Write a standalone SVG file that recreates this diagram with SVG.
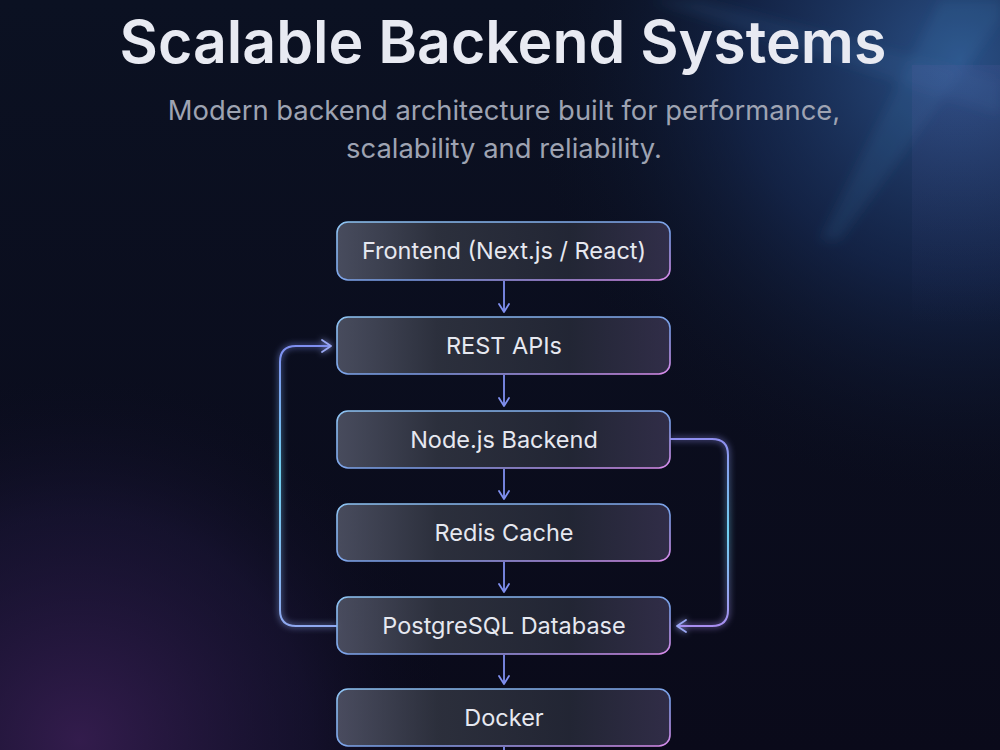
<svg xmlns="http://www.w3.org/2000/svg" width="1000" height="750" viewBox="0 0 1000 750">
<defs>
<linearGradient id="bg" x1="0" y1="0" x2="0" y2="1">
<stop offset="0" stop-color="#0b1122"/>
<stop offset="1" stop-color="#0a0a1a"/>
</linearGradient>
<radialGradient id="glowTR" cx="960" cy="60" r="440" gradientUnits="userSpaceOnUse">
<stop offset="0" stop-color="#2c548c" stop-opacity="0.95"/>
<stop offset="0.5" stop-color="#1a3262" stop-opacity="0.55"/>
<stop offset="1" stop-color="#0b1122" stop-opacity="0"/>
</radialGradient>
<radialGradient id="glowBL" cx="80" cy="740" r="380" gradientUnits="userSpaceOnUse">
<stop offset="0" stop-color="#3a1f55" stop-opacity="0.85"/>
<stop offset="0.6" stop-color="#241a45" stop-opacity="0.4"/>
<stop offset="1" stop-color="#0a0a1a" stop-opacity="0"/>
</radialGradient>
<linearGradient id="rayV" x1="0" y1="0" x2="0" y2="1">
<stop offset="0" stop-color="#5a5aa0" stop-opacity="0.18"/>
<stop offset="1" stop-color="#5a5aa0" stop-opacity="0"/>
</linearGradient>
<linearGradient id="nodeFill" x1="0" y1="0" x2="1" y2="0">
<stop offset="0" stop-color="#5c6072" stop-opacity="0.75"/>
<stop offset="0.3" stop-color="#343844" stop-opacity="0.8"/>
<stop offset="0.7" stop-color="#282c3a" stop-opacity="0.8"/>
<stop offset="1" stop-color="#3a3552" stop-opacity="0.8"/>
</linearGradient>
<linearGradient id="nodeStroke" x1="0" y1="0" x2="1" y2="1">
<stop offset="0" stop-color="#8ec4f2"/>
<stop offset="0.6" stop-color="#7a9ee8"/>
<stop offset="1" stop-color="#d88ae8"/>
</linearGradient>
<linearGradient id="loopL" x1="0" y1="0" x2="0" y2="1">
<stop offset="0" stop-color="#7f8ff0"/>
<stop offset="0.45" stop-color="#6fd0f0"/>
<stop offset="1" stop-color="#8fa8f0"/>
</linearGradient>
<linearGradient id="loopR" x1="0" y1="0" x2="0" y2="1">
<stop offset="0" stop-color="#8f8ff0"/>
<stop offset="0.5" stop-color="#6fd0f0"/>
<stop offset="1" stop-color="#a88ef0"/>
</linearGradient>
<filter id="glow" x="-20%" y="-20%" width="140%" height="140%">
<feGaussianBlur stdDeviation="3" result="b"/>
<feMerge><feMergeNode in="b"/><feMergeNode in="SourceGraphic"/></feMerge>
</filter>
<filter id="soft" x="-20%" y="-20%" width="140%" height="140%">
<feGaussianBlur stdDeviation="6"/>
</filter>
<marker id="ah" viewBox="0 0 12 12" refX="10" refY="6" markerWidth="12" markerHeight="12" markerUnits="userSpaceOnUse" orient="auto">
<path d="M2,1 L10,6 L2,11" fill="none" stroke="#8090f0" stroke-width="1.8" stroke-linecap="round" stroke-linejoin="round"/>
</marker>
<marker id="ahL" viewBox="0 0 14 14" refX="12" refY="7" markerWidth="14" markerHeight="14" markerUnits="userSpaceOnUse" orient="auto">
<path d="M3,1 L12,7 L3,13" fill="none" stroke="#9aa8f4" stroke-width="1.8" stroke-linecap="round" stroke-linejoin="round"/>
</marker>
</defs>
<style>
.node rect{fill:url(#nodeFill);stroke:url(#nodeStroke);stroke-width:1.6}
.lbl{font-family:Inter,"Noto Sans","Liberation Sans",sans-serif;font-size:23.5px;fill:#e6e8f0;text-anchor:middle}
.down{stroke:#7f8ff0;stroke-width:1.8;fill:none}
.loop{stroke-width:2;fill:none;stroke-linejoin:round}
.ttl{font-family:Inter,"Noto Sans","Liberation Sans",sans-serif;text-anchor:middle}
</style>
<rect width="1000" height="750" fill="url(#bg)"/>
<rect width="1000" height="750" fill="url(#glowTR)"/>
<rect width="1000" height="750" fill="url(#glowBL)"/>
<g filter="url(#soft)">
<polygon points="700,0 1000,80 1000,115 650,0" fill="#4a78b0" opacity="0.14"/>
<polygon points="940,0 1000,0 1000,20 840,240 820,240" fill="#4a86c0" opacity="0.14"/>
</g>
<rect x="912" y="65" width="88" height="260" fill="url(#rayV)"/>

<text class="ttl" x="503" y="63" font-size="59" font-weight="600" fill="#e8eaf2">Scalable Backend Systems</text>
<text class="ttl" x="504" y="120" font-size="27.4" fill="#9ea3b2">Modern backend architecture built for performance,</text>
<text class="ttl" x="504" y="158" font-size="27.4" fill="#9ea3b2">scalability and reliability.</text>

<g id="connectors">
<line class="down" x1="504" y1="281" x2="504" y2="312" marker-end="url(#ah)"/>
<line class="down" x1="504" y1="375" x2="504" y2="406" marker-end="url(#ah)"/>
<line class="down" x1="504" y1="469" x2="504" y2="499" marker-end="url(#ah)"/>
<line class="down" x1="504" y1="562" x2="504" y2="592" marker-end="url(#ah)"/>
<line class="down" x1="504" y1="655" x2="504" y2="684" marker-end="url(#ah)"/>
<line class="down" x1="504" y1="747" x2="504" y2="750"/>
<path class="loop" stroke="url(#loopL)" filter="url(#glow)" d="M337,626 L296,626 Q280,626 280,610 L280,362 Q280,346 296,346 L331,346" marker-end="url(#ahL)"/>
<path class="loop" stroke="url(#loopR)" filter="url(#glow)" d="M670,439 L712,439 Q728,439 728,455 L728,610 Q728,626 712,626 L677,626" marker-end="url(#ahL)"/>
</g>

<g id="n-frontend" class="node"><rect x="337" y="222" width="333" height="58" rx="11"/><text class="lbl" x="504" y="259">Frontend (Next.js / React)</text></g>
<g id="n-rest" class="node"><rect x="337" y="317" width="333" height="57" rx="11"/><text class="lbl" x="504" y="354">REST APIs</text></g>
<g id="n-node" class="node"><rect x="337" y="411" width="333" height="57" rx="11"/><text class="lbl" x="504" y="448">Node.js Backend</text></g>
<g id="n-redis" class="node"><rect x="337" y="504" width="333" height="57" rx="11"/><text class="lbl" x="504" y="541">Redis Cache</text></g>
<g id="n-postgres" class="node"><rect x="337" y="597" width="333" height="57" rx="11"/><text class="lbl" x="504" y="634">PostgreSQL Database</text></g>
<g id="n-docker" class="node"><rect x="337" y="689" width="333" height="57" rx="11"/><text class="lbl" x="504" y="726">Docker</text></g>
</svg>
